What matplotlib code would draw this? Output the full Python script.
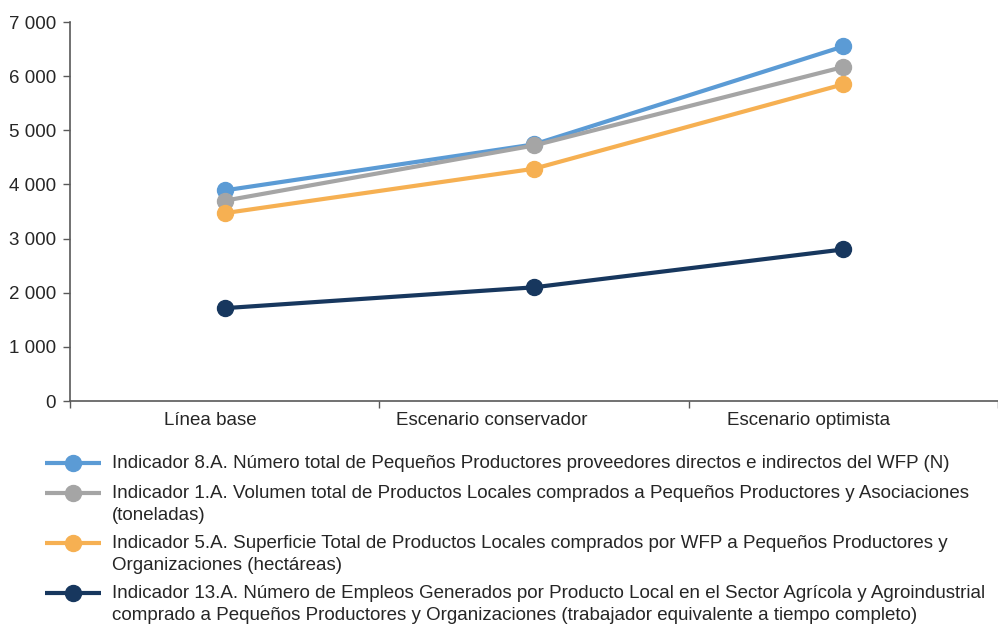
import matplotlib.pyplot as plt
from matplotlib.ticker import FuncFormatter
from matplotlib.transforms import ScaledTranslation

# Escenarios y valores de cada indicador
escenarios = ["Línea base", "Escenario conservador", "Escenario optimista"]

ind_8a = [3890, 4740, 6550]
ind_1a = [3700, 4720, 6170]
ind_5a = [3470, 4290, 5850]
ind_13a = [1715, 2100, 2800]

etiquetas = [
    "Indicador 8.A. Número total de Pequeños Productores proveedores directos e indirectos del WFP (N)",
    "Indicador 1.A. Volumen total de Productos Locales comprados a Pequeños Productores y Asociaciones\n(toneladas)",
    "Indicador 5.A. Superficie Total de Productos Locales comprados por WFP a Pequeños Productores y\nOrganizaciones (hectáreas)",
    "Indicador 13.A. Número de Empleos Generados por Producto Local en el Sector Agrícola y Agroindustrial\ncomprado a Pequeños Productores y Organizaciones (trabajador equivalente a tiempo completo)",
]
colores = ["#5B9BD5", "#A5A5A5", "#F6B052", "#17375E"]

plt.rcParams['font.family'] = ['Liberation Sans', 'DejaVu Sans']
texto = "#262626"
eje = "#595959"
fs = 13.5

fig = plt.figure(figsize=(9.98, 6.26), dpi=100)
ax = fig.add_axes([0.0701, 0.3594, 0.93, 0.6054])

x = list(range(len(escenarios)))
for serie, color, etiqueta in zip([ind_8a, ind_1a, ind_5a, ind_13a], colores, etiquetas):
    ax.plot(x, serie, color=color, lw=3, marker='o', markersize=11.5,
            label=etiqueta, solid_capstyle='butt')

ax.set_xlim(-0.5, 2.5)
ax.set_ylim(0, 7000)
ax.set_yticks(range(0, 7001, 1000))
ax.yaxis.set_major_formatter(FuncFormatter(lambda v, p: f"{int(v):,}".replace(",", " ")))

# Marcas del eje X entre categorías
ax.set_xticks([-0.5, 0.5, 1.5, 2.5])
ax.set_xticklabels([])
ax.set_xticks(x, minor=True)
ax.set_xticklabels(escenarios, minor=True)
ax.tick_params(axis='x', which='minor', length=0, pad=8)
ax.tick_params(axis='x', which='major', length=5, color=eje, width=1)
ax.tick_params(axis='y', length=5, color=eje, width=1, pad=5)
ax.tick_params(labelsize=fs, labelcolor=texto)
ax.tick_params(axis='x', which='minor', labelsize=fs, labelcolor=texto)

# en el original las etiquetas quedan algo corridas a la izquierda
for lbl, dx in zip(ax.get_xticklabels(minor=True), [-14, -42, -35]):
    lbl.set_transform(lbl.get_transform() + ScaledTranslation(dx / 100, 0, fig.dpi_scale_trans))

for lado in ['top', 'right']:
    ax.spines[lado].set_visible(False)
for lado in ['left', 'bottom']:
    ax.spines[lado].set_color(eje)
    ax.spines[lado].set_linewidth(1.2)

leg = fig.legend(loc='upper left', bbox_to_anchor=(0.045, 0.273), frameon=False,
                 fontsize=fs, handlelength=3.0, handletextpad=0.58,
                 handleheight=1.15, labelspacing=0.6, borderaxespad=0, borderpad=0)
for t in leg.get_texts():
    t.set_color(texto)
    t.set_linespacing(1.38)
# el marcador se alinea con la primera línea del texto
for col in leg._legend_handle_box.get_children():
    for fila in col.get_children():
        fila.align = 'top'

plt.savefig("out.png", dpi=100)
